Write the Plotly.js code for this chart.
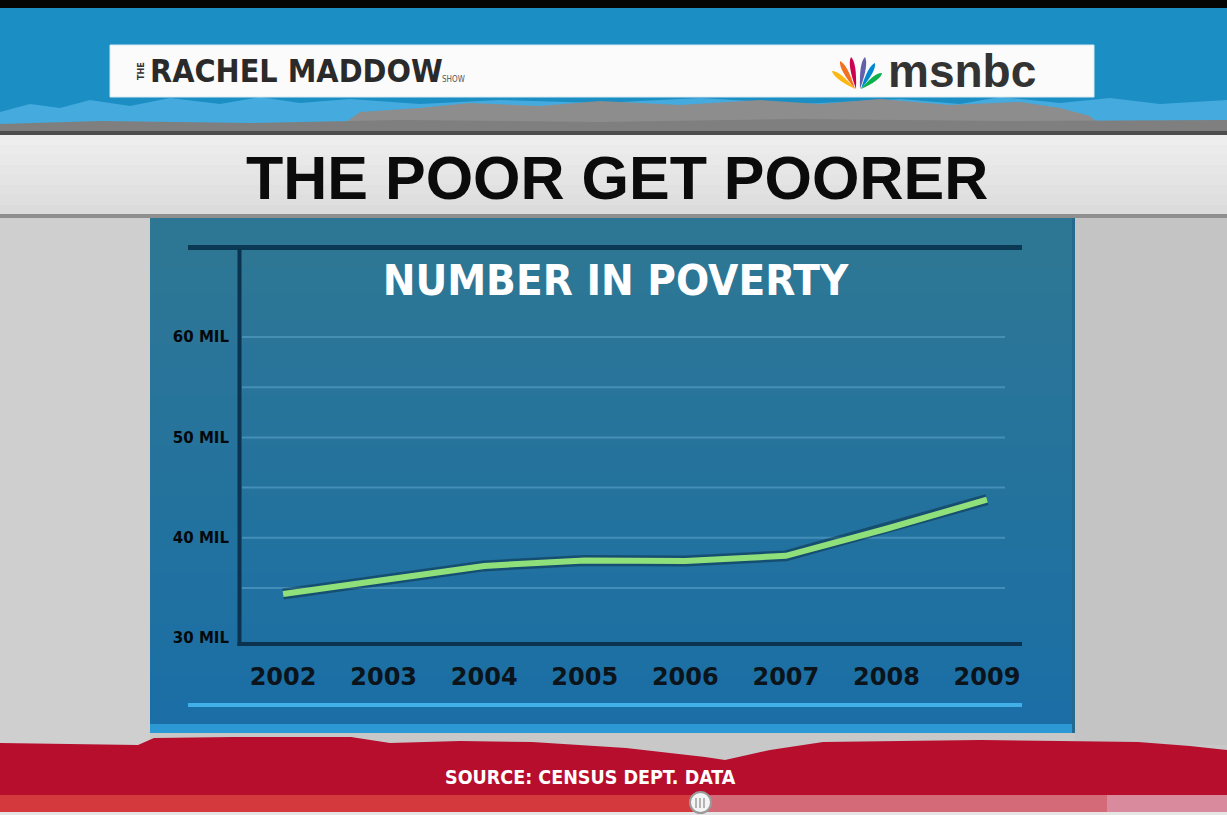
<!DOCTYPE html>
<html>
<head>
<meta charset="utf-8">
<script src="https://cdn.plot.ly/plotly-3.0.1.min.js"></script>
<style>html,body{margin:0;padding:0;background:#c8c8c8;}#chart{width:1227px;height:815px;}</style>
</head>
<body>
<div id="chart"></div>
<script>
// ---- data ----
const years = [2002, 2003, 2004, 2005, 2006, 2007, 2008, 2009];
const poverty = [34.4, 35.8, 37.2, 37.75, 37.7, 38.2, 40.9, 43.8]; // millions
const yTickVals = [30, 40, 50, 60];
const yTickText = ['30 MIL', '40 MIL', '50 MIL', '60 MIL'];
const gridVals = [35, 40, 45, 50, 55, 60];
const xTickText = ['2002', '2003', '2004', '2005', '2006', '2007', '2008', '2009'];
const chartTitle = 'NUMBER IN POVERTY';
const headline = 'THE POOR GET POORER';
const sourceText = 'SOURCE: CENSUS DEPT. DATA';

// ---- geometry helpers (decoration only) ----
const W = 1227, H = 815;
const ML = 239, MR = 222, MT = 247, MB = 171;
const PW = W - ML - MR, PH = H - MT - MB;
const PX = x => (x - ML) / PW;
const PY = y => (H - MB - y) / PH;

function rect(x0, y0, x1, y1, color, extra) {
  return Object.assign({type: 'rect', xref: 'paper', yref: 'paper',
    x0: PX(x0), x1: PX(x1), y0: PY(y1), y1: PY(y0),
    fillcolor: color, line: {width: 0}, layer: 'below'}, extra || {});
}
function poly(pts, color) {
  return {type: 'path', xref: 'paper', yref: 'paper', layer: 'below',
    path: 'M' + pts.map(p => PX(p[0]).toFixed(5) + ',' + PY(p[1]).toFixed(5)).join('L') + 'Z',
    fillcolor: color, line: {width: 0}};
}
function hline(x0, x1, y, color, w) {
  return {type: 'line', xref: 'paper', yref: 'paper', layer: 'below',
    x0: PX(x0), x1: PX(x1), y0: PY(y), y1: PY(y), line: {color: color, width: w}};
}
function vline(x, y0, y1, color, w) {
  return {type: 'line', xref: 'paper', yref: 'paper', layer: 'below',
    x0: PX(x), x1: PX(x), y0: PY(y0), y1: PY(y1), line: {color: color, width: w}};
}
function feather(bx, by, tx, ty, w, color) {
  const dx = tx - bx, dy = ty - by, L = Math.hypot(dx, dy);
  const nx = -dy / L * w, ny = dx / L * w;
  const c1 = [bx + 0.8 * dx + nx, by + 0.8 * dy + ny];
  const c2 = [bx + 0.8 * dx - nx, by + 0.8 * dy - ny];
  const f = p => PX(p[0]).toFixed(5) + ',' + PY(p[1]).toFixed(5);
  return {type: 'path', xref: 'paper', yref: 'paper', layer: 'below',
    path: 'M' + f([bx, by]) + 'Q' + f(c1) + ' ' + f([tx, ty]) + 'Q' + f(c2) + ' ' + f([bx, by]) + 'Z',
    fillcolor: color, line: {width: 0}};
}
function mix(a, b, t) {
  const pa = a.match(/\w\w/g).map(h => parseInt(h, 16));
  const pb = b.match(/\w\w/g).map(h => parseInt(h, 16));
  return 'rgb(' + pa.map((v, i) => Math.round(v + (pb[i] - v) * t)).join(',') + ')';
}

const shapes = [];
// concrete background
shapes.push(rect(0, 210, 150, 745, '#cfcfcf'));
shapes.push(rect(1075, 210, 1227, 745, '#c4c4c4'));
// top black bar + sky
shapes.push(rect(0, 0, 1227, 8, '#050505'));
shapes.push(rect(0, 8, 1227, 134, '#1b8ec4'));
// light blue cloud band
shapes.push(poly([[0,112],[30,104],[60,108],[90,100],[130,106],[170,98],[220,104],[260,97],[300,103],[350,99],[420,104],[500,100],[600,103],[700,98],[800,104],[900,99],[960,104],[1000,97],[1060,103],[1110,98],[1160,104],[1227,100],[1227,134],[0,134]], '#45aadd'));
// grey ridge
shapes.push(poly([[330,134],[360,112],[420,108],[470,103],[540,106],[600,101],[680,105],[760,100],[820,104],[880,99],[950,105],[1020,102],[1060,108],[1090,116],[1110,134]], '#8d8d8d'));
shapes.push(poly([[0,134],[0,124],[100,121],[250,123],[400,120],[600,122],[800,119],[1000,121],[1227,120],[1227,134]], '#7f7f7f'));
shapes.push(rect(0, 131, 1227, 135, '#4d4d4d'));
// header band
for (let i = 0; i < 8; i++) {
  const y0 = 135 + i * 10, y1 = y0 + 11.5;
  shapes.push(rect(0, y0, 1227, Math.min(y1, 214), mix('eeeeee', 'dcdcdc', i / 7)));
}
shapes.push(rect(0, 214, 1227, 218, '#8f8f8f'));
// white banner
shapes.push(rect(110, 45, 1094, 97, '#fbfbfb', {line: {color: '#d8e8f0', width: 1}}));
// msnbc peacock
shapes.push(feather(855, 89, 832, 71, 5, '#fcb711'));
shapes.push(feather(855, 89, 840, 61, 5, '#f37021'));
shapes.push(feather(856, 89, 851, 57, 5, '#cc004c'));
shapes.push(feather(860, 89, 865, 57, 5, '#6460aa'));
shapes.push(feather(861, 89, 875, 63, 5, '#0089d0'));
shapes.push(feather(861, 89, 882, 73, 5, '#0db14b'));
// chart panel with gradient
shapes.push(rect(150, 218, 1075, 725, '#26739d'));
const NB = 20, pTop = 218, pBot = 725;
for (let i = 0; i < NB; i++) {
  const y0 = pTop + (pBot - pTop) * i / NB, y1 = Math.min(pBot, pTop + (pBot - pTop) * (i + 1) / NB + 2);
  shapes.push(rect(150, y0, 1075, y1, mix('2e7794', '1b6fa6', i / (NB - 1))));
}
shapes.push(rect(150, 724, 1075, 733, '#2c98d4'));
shapes.push(rect(1072, 218, 1075, 733, '#256a8e'));
// decorative lines inside panel
shapes.push(hline(188, 1022, 247.5, '#0b3853', 5));
shapes.push(hline(188, 1022, 705, '#3fb0e8', 4));
// gridlines (data referenced)
gridVals.forEach(v => shapes.push({type: 'line', xref: 'paper', yref: 'y', layer: 'below',
  x0: PX(242), x1: PX(1005), y0: v, y1: v, line: {color: 'rgba(95,165,205,0.55)', width: 2}}));
// axis frame lines
shapes.push(vline(239.5, 249, 646, '#0b3350', 4));
shapes.push(hline(237.5, 1022, 644, '#0b3350', 4));
// red torn band
shapes.push(poly([[0,743],[138,745],[154,738],[233,737],[351,737],[390,743],[460,741],[532,742],[626,748],[705,757],[725,760],[770,750],[823,742],[900,741],[981,740],[1060,741],[1138,742],[1190,746],[1227,750],[1227,796],[0,796]], '#b70e2d'));
// progress bar
shapes.push(rect(0, 795, 700, 812, '#d43a3d'));
shapes.push(rect(700, 795, 1107, 812, '#d46a77'));
shapes.push(rect(1107, 795, 1227, 812, '#d98b9d'));
shapes.push(rect(0, 812, 1227, 815, '#e6e6e6'));
shapes.push({type: 'circle', xref: 'paper', yref: 'paper', layer: 'above',
  x0: PX(690), x1: PX(711), y0: PY(813), y1: PY(792), fillcolor: '#f4f4f4', line: {color: '#9a9a9a', width: 2}});
[696, 700, 704].forEach(x => shapes.push({type: 'line', xref: 'paper', yref: 'paper', layer: 'above',
  x0: PX(x), x1: PX(x), y0: PY(798), y1: PY(808), line: {color: '#a0a0a0', width: 1.5}}));

const annotations = [
  {text: headline, xref: 'paper', yref: 'paper', x: PX(617), y: PY(178), xanchor: 'center', yanchor: 'middle',
   showarrow: false, font: {family: 'Liberation Sans, Arial, sans-serif', size: 61, weight: 700, color: '#0b0b0b'}},
  {text: 'RACHEL MADDOW', xref: 'paper', yref: 'paper', x: PX(148), y: PY(71), xanchor: 'left', yanchor: 'middle',
   showarrow: false, font: {family: 'DejaVu Sans Condensed, DejaVu Sans, sans-serif', size: 32, weight: 700, color: '#2a2a2a'}},
  {text: 'THE', xref: 'paper', yref: 'paper', x: PX(141), y: PY(71), xanchor: 'center', yanchor: 'middle', textangle: -90,
   showarrow: false, font: {family: 'DejaVu Sans Condensed, DejaVu Sans, sans-serif', size: 9, weight: 700, color: '#333333'}},
  {text: 'SHOW', xref: 'paper', yref: 'paper', x: PX(440), y: PY(80), xanchor: 'left', yanchor: 'middle',
   showarrow: false, font: {family: 'DejaVu Sans Condensed, DejaVu Sans, sans-serif', size: 8, color: '#555555'}},
  {text: 'msnbc', xref: 'paper', yref: 'paper', x: PX(886), y: PY(71), xanchor: 'left', yanchor: 'middle',
   showarrow: false, font: {family: 'Liberation Sans, Arial, sans-serif', size: 46, weight: 700, color: '#333333'}},
  {text: sourceText, xref: 'paper', yref: 'paper', x: PX(590), y: PY(777), xanchor: 'center', yanchor: 'middle',
   showarrow: false, font: {family: 'DejaVu Sans Condensed, DejaVu Sans, sans-serif', size: 19.5, weight: 700, color: '#ffffff'}}
];

const traces = [
  {x: years, y: poverty, type: 'scatter', mode: 'lines', hoverinfo: 'skip', showlegend: false,
   line: {color: 'rgba(8,35,55,0.45)', width: 11}},
  {x: years, y: poverty, type: 'scatter', mode: 'lines', name: 'Number in poverty', showlegend: false,
   line: {color: '#8fe07b', width: 6}}
];

// axis range chosen so gridlines match the picture (60 at y=337, 10.04 px per million)
const pxPerMil = 10.04;
const yMin = 60 - (644 - 337) / pxPerMil;
const yMax = 60 + (337 - 247) / pxPerMil;
const pxPerYear = (988 - 285) / 7;
const xMin = 2002 - (283 - ML) / pxPerYear;
const xMax = 2009 + (ML + PW - 987) / pxPerYear;

const layout = {
  width: W, height: H,
  margin: {l: ML, r: MR, t: MT, b: MB, pad: 0},
  paper_bgcolor: '#c8c8c8',
  plot_bgcolor: 'rgba(0,0,0,0)',
  title: {text: chartTitle, x: 615.5 / W, xref: 'container', xanchor: 'center',
          y: 1 - 280 / H, yref: 'container', yanchor: 'middle',
          font: {family: 'DejaVu Sans Condensed, DejaVu Sans, sans-serif', size: 43.5, weight: 700, color: '#ffffff'}},
  xaxis: {range: [xMin, xMax], tickvals: years, ticktext: xTickText, showgrid: false, zeroline: false,
          showline: false, ticks: '', ticklabelstandoff: 16,
          tickfont: {family: 'DejaVu Sans, sans-serif', size: 24, weight: 700, color: '#0a141a'}, fixedrange: true},
  yaxis: {range: [yMin, yMax], tickvals: yTickVals, ticktext: yTickText, showgrid: false, zeroline: false,
          showline: false, ticks: '', ticklabelstandoff: 9,
          tickfont: {family: 'DejaVu Sans, sans-serif', size: 15, weight: 700, color: '#05090c'}, fixedrange: true},
  shapes: shapes,
  annotations: annotations,
  showlegend: false
};

Plotly.newPlot('chart', traces, layout, {displayModeBar: false, staticPlot: true});
</script>
</body>
</html>
